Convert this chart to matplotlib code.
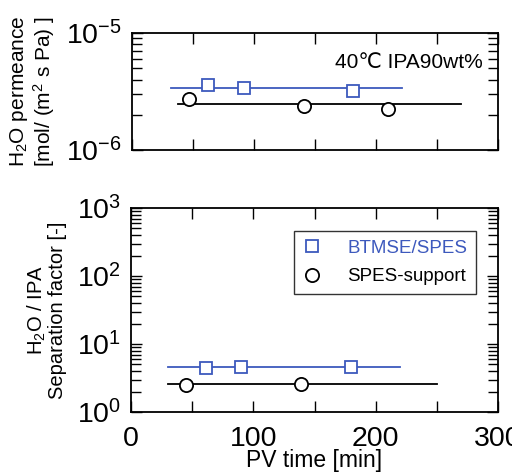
import numpy as np
import matplotlib
matplotlib.use('Agg')
import matplotlib.pyplot as plt
from matplotlib.ticker import LogLocator, MultipleLocator, NullFormatter

plt.rcParams['font.family'] = ['Liberation Sans', 'DejaVu Sans']
plt.rcParams['mathtext.fontset'] = 'custom'
plt.rcParams['mathtext.rm'] = 'Liberation Sans'
plt.rcParams['mathtext.it'] = 'Liberation Sans:italic'
plt.rcParams['mathtext.bf'] = 'Liberation Sans:bold'

BLUE = '#3d59bd'

# permeance data [mol/(m2 s Pa)]
btmse_time_p = [62, 92, 181]
btmse_perm = [3.6e-6, 3.4e-6, 3.2e-6]
btmse_perm_line = [32, 221]
btmse_perm_level = 3.4e-6

spes_time_p = [47, 141, 210]
spes_perm = [2.73e-6, 2.36e-6, 2.25e-6]
spes_perm_line = [38, 270]
spes_perm_level = 2.45e-6

# separation factor data
btmse_time_s = [61, 90, 180]
btmse_sep = [4.4, 4.6, 4.6]
btmse_sep_line = [30, 220]
btmse_sep_level = 4.6

spes_time_s = [45, 139]
spes_sep = [2.5, 2.6]
spes_sep_line = [30, 250]
spes_sep_level = 2.55

fig = plt.figure(figsize=(5.12, 4.75), dpi=100)
ax1 = fig.add_axes([132 / 512, 1 - 150 / 475, 366 / 512, 117 / 475])
ax2 = fig.add_axes([131 / 512, 1 - 412 / 475, 367 / 512, 204 / 475])

# top panel
ax1.plot(btmse_perm_line, [btmse_perm_level] * 2, color=BLUE, lw=1.3, zorder=2)
ax1.plot(spes_perm_line, [spes_perm_level] * 2, color='black', lw=1.3, zorder=2)
ax1.plot(btmse_time_p, btmse_perm, 's', ms=9, mfc='white', mec=BLUE, mew=1.3, zorder=3)
ax1.plot(spes_time_p, spes_perm, 'o', ms=9.5, mfc='white', mec='black', mew=1.3, zorder=3)
ax1.set_yscale('log')
ax1.set_ylim(1e-6, 1e-5)
ax1.text(0.957, 0.75, '40\u2103 IPA90wt%', transform=ax1.transAxes, ha='right', va='center', fontsize=15)
ax1.set_ylabel('H$_2$O permeance\n[mol/ (m$^2$ s Pa) ]', fontsize=15, labelpad=7, linespacing=1.05)

# bottom panel
ax2.plot(btmse_sep_line, [btmse_sep_level] * 2, color=BLUE, lw=1.3, zorder=2)
ax2.plot(spes_sep_line, [spes_sep_level] * 2, color='black', lw=1.3, zorder=2)
ax2.plot(btmse_time_s, btmse_sep, 's', ms=9, mfc='white', mec=BLUE, mew=1.3, zorder=3, label='BTMSE/SPES')
ax2.plot(spes_time_s, spes_sep, 'o', ms=9.5, mfc='white', mec='black', mew=1.3, zorder=3, label='SPES-support')
ax2.set_yscale('log')
ax2.set_ylim(1, 1000)
ax2.set_ylabel('H$_2$O / IPA\nSeparation factor [-]', fontsize=14.5, labelpad=7, linespacing=1.05)
ax2.set_xlabel('PV time [min]', fontsize=16.5, labelpad=-2)
leg = ax2.legend(loc='upper right', bbox_to_anchor=(0.94, 0.885), fontsize=13.5, frameon=True,
                 fancybox=False, edgecolor='black', handlelength=1.0, handletextpad=1.4,
                 borderpad=0.45, labelspacing=0.6, borderaxespad=0)
leg.get_frame().set_linewidth(1.0)
leg.get_texts()[0].set_color(BLUE)

for ax in (ax1, ax2):
    ax.set_xlim(0, 300)
    ax.xaxis.set_major_locator(MultipleLocator(50))
    ax.yaxis.set_major_locator(LogLocator(base=10, numticks=10))
    ax.yaxis.set_minor_locator(LogLocator(base=10, subs=np.arange(2, 10), numticks=10))
    ax.yaxis.set_minor_formatter(NullFormatter())
    ax.tick_params(which='both', direction='in', top=True, right=True, width=1.0, labelsize=20.5)
    ax.tick_params(which='major', length=8, pad=7)
    ax.tick_params(which='minor', length=7)
    ax.tick_params(axis='x', which='major', pad=10)
    for s in ax.spines.values():
        s.set_linewidth(1.3)

ax1.set_xticklabels([])
ax2.set_xticks([0, 50, 100, 150, 200, 250, 300])
ax2.set_xticklabels(['0', '', '100', '', '200', '', '300'])

fig.savefig('out.png', dpi=100)
